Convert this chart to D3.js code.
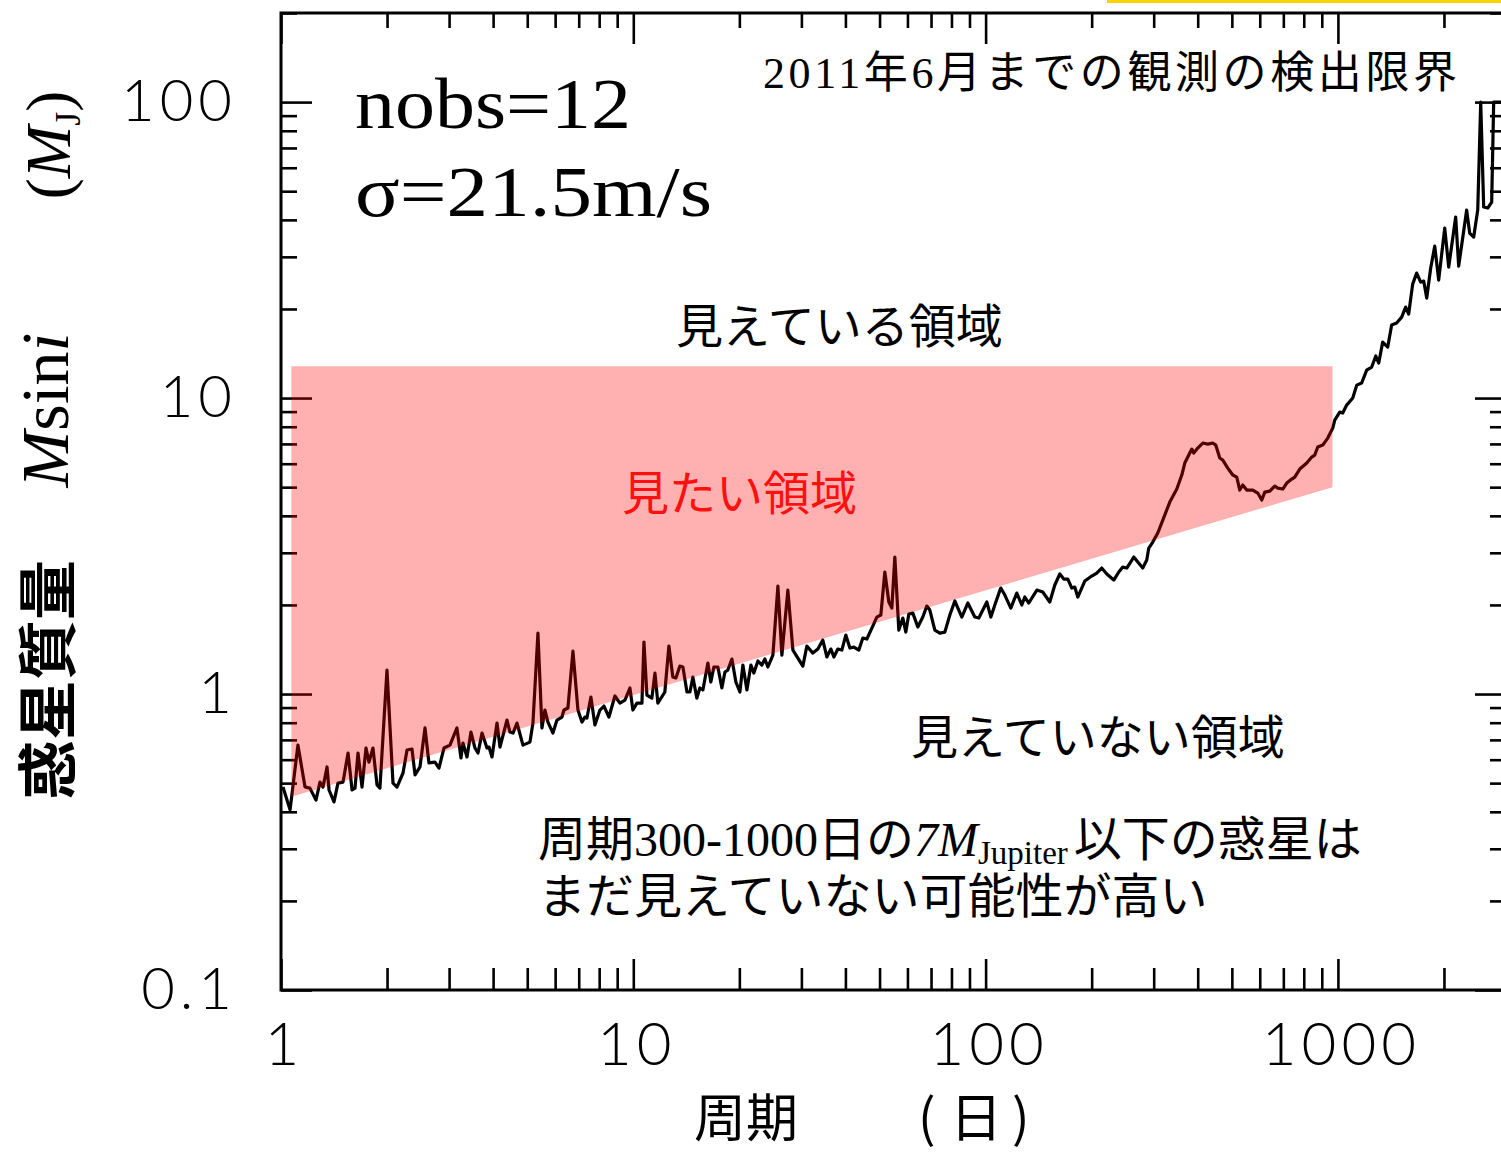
<!DOCTYPE html>
<html>
<head>
<meta charset="utf-8">
<script src="https://cdn.jsdelivr.net/npm/d3@7"></script>
<style>
  html, body { margin: 0; padding: 0; background: #ffffff; }
  svg { display: block; }
</style>
</head>
<body>
<svg id="chart" width="1501" height="1154"></svg>
<script>
// Detection limit: minimum detectable Msini (Jupiter masses) versus orbital period (days)
const periodDays = [
  1.013, 1.061, 1.117, 1.170, 1.208, 1.257, 1.290, 1.316, 1.351, 1.369,
  1.414, 1.451, 1.500, 1.550, 1.591, 1.622, 1.654, 1.698, 1.743, 1.777,
  1.824, 1.873, 1.909, 1.999, 2.079, 2.134, 2.220, 2.279, 2.354, 2.401,
  2.480, 2.563, 2.630, 2.735, 2.808, 2.901, 3.017, 3.158, 3.242, 3.285,
  3.372, 3.461, 3.553, 3.624, 3.720, 3.843, 3.894, 3.971, 4.103, 4.184,
  4.380, 4.466, 4.555, 4.675, 4.862, 5.089, 5.190, 5.362, 5.504, 5.613,
  5.724, 5.914, 6.071, 6.273, 6.355, 6.523, 6.740, 6.964, 7.148, 7.290,
  7.385, 7.580, 7.781, 8.040, 8.253, 8.527, 8.868, 9.162, 9.467, 9.781,
  9.974, 10.24, 10.58, 10.72, 10.93, 11.29, 11.52, 11.74, 12.29, 12.62,
  12.95, 13.21, 13.56, 13.83, 14.20, 14.48, 14.76, 15.15, 15.45, 15.76,
  16.28, 16.60, 16.93, 17.38, 17.84, 18.20, 18.55, 19.05, 19.55, 20.07,
  20.47, 21.01, 21.57, 21.99, 22.58, 23.17, 23.63, 24.10, 24.90, 25.73,
  26.41, 27.46, 28.38, 29.32, 30.29, 31.09, 32.33, 33.41, 34.51, 35.43,
  36.37, 37.09, 38.07, 39.08, 40.11, 41.18, 42.27, 43.67, 44.83, 46.02,
  47.55, 49.12, 50.42, 51.76, 53.13, 54.18, 55.25, 56.71, 58.22, 59.37,
  60.54, 62.15, 64.21, 66.34, 68.10, 69.45, 71.76, 74.14, 76.61, 79.15,
  81.78, 85.60, 89.02, 93.19, 95.66, 100.8, 103.5, 106.2, 110.4, 113.4,
  117.9, 122.6, 126.7, 129.2, 132.6, 139.8, 145.3, 152.1, 157.2, 162.4,
  166.7, 171.1, 175.7, 179.1, 182.7, 191.2, 200.1, 206.8, 213.6, 220.8,
  231.1, 238.8, 245.1, 251.6, 263.4, 270.4, 279.3, 286.7, 290.5, 298.2,
  308.1, 318.4, 333.3, 348.9, 360.5, 367.6, 379.8, 384.8, 389.8, 400.1,
  413.4, 427.2, 441.4, 450.1, 462.0, 471.2, 486.8, 503.0, 516.3, 526.5,
  536.9, 551.1, 573.2, 592.3, 608.0, 620.0, 640.6, 661.9, 675.0, 697.4,
  715.9, 739.7, 754.3, 779.4, 815.8, 842.9, 859.6, 876.6, 905.7, 935.8,
  966.9, 979.6, 1012, 1032, 1059, 1102, 1131, 1168, 1207, 1247,
  1281, 1306, 1340, 1385, 1421, 1468, 1517, 1557, 1588, 1630,
  1673, 1718, 1752, 1787, 1834, 1883, 1932, 2010, 2063, 2159,
  2202, 2320, 2366, 2429, 2494, 2543, 2593, 2662, 2732, 2768,
  3073
];

const massLimit = [
  0.485, 0.406, 0.672, 0.485, 0.481, 0.438, 0.504, 0.485, 0.567, 0.474,
  0.432, 0.500, 0.504, 0.632, 0.474, 0.481, 0.632, 0.485, 0.657, 0.589,
  0.657, 0.493, 0.481, 1.205, 0.500, 0.485, 0.541, 0.647, 0.652, 0.533,
  0.567, 0.768, 0.585, 0.589, 0.562, 0.657, 0.672, 0.768, 0.608, 0.683,
  0.613, 0.744, 0.657, 0.632, 0.738, 0.657, 0.662, 0.613, 0.798, 0.662,
  0.817, 0.744, 0.738, 0.798, 0.672, 0.688, 0.798, 1.607, 0.768, 0.883,
  0.804, 0.738, 0.817, 0.836, 0.883, 0.897, 1.397, 0.883, 0.804, 0.836,
  0.830, 0.977, 0.786, 0.883, 0.911, 0.836, 0.985, 0.932, 0.954, 1.048,
  0.883, 0.932, 0.932, 1.499, 0.992, 0.969, 1.177, 0.932, 1.016, 1.453,
  1.141, 1.132, 1.243, 1.234, 1.016, 1.016, 1.141, 0.969, 1.048, 1.032,
  1.273, 1.098, 1.234, 1.234, 1.048, 1.187, 1.205, 1.313, 1.098, 1.016,
  1.253, 1.032, 1.253, 1.177, 1.293, 1.253, 1.313, 1.234, 1.354, 2.317,
  1.354, 2.245, 1.408, 1.323, 1.243, 1.453, 1.375, 1.419, 1.522, 1.334,
  1.419, 1.334, 1.419, 1.408, 1.582, 1.430, 1.441, 1.408, 1.546, 1.534,
  1.671, 1.820, 1.849, 2.584, 2.046, 1.952, 2.903, 1.645, 1.806, 1.619,
  1.863, 1.877, 1.684, 1.820, 1.983, 1.922, 1.645, 1.607, 1.619, 1.849,
  2.062, 1.820, 2.030, 1.820, 1.806, 2.046, 1.820, 1.999, 2.281, 2.160,
  1.952, 2.194, 1.999, 2.127, 2.030, 2.245, 2.211, 2.046, 2.335, 2.544,
  2.446, 2.446, 2.281, 2.299, 2.127, 2.408, 2.504, 2.563, 2.665, 2.544,
  2.427, 2.584, 2.685, 2.665, 2.903, 2.792, 2.665, 2.836, 3.113, 3.262,
  3.499, 3.870, 4.452, 4.927, 5.495, 6.031, 6.520, 6.725, 6.520, 6.778,
  7.047, 6.992, 7.047, 6.937, 6.271, 6.173, 5.800, 5.495, 5.409, 4.889,
  5.083, 4.889, 4.889, 4.775, 4.523, 4.812, 4.850, 5.043, 4.965, 4.927,
  5.162, 5.325, 5.409, 5.755, 6.031, 6.320, 6.419, 6.831, 6.937, 7.326,
  7.917, 8.427, 8.968, 8.898, 9.469, 10.00, 11.06, 11.24, 12.43, 12.73,
  13.87, 13.13, 15.46, 14.87, 17.65, 17.92, 18.77, 20.30, 19.22, 24.27,
  26.44, 24.66, 24.85, 21.77, 27.49, 32.62, 25.04, 37.53, 27.71, 40.88,
  27.92, 43.16, 36.10, 34.99, 43.16, 100, 44.19, 43.85, 45.94, 100,
  100
];

// Region of interest (shaded): period range, upper mass, lower mass at each end
const targetPeriodRange = [1.07, 965];
const targetMassTop = 12.8;
const targetMassBottom = [0.45, 5.0];

// Axis ticks
const xMajorTicks = [1, 10, 100, 1000];
const xTickLabels = ["1", "10", "100", "1000"];
const yMajorTicks = [0.1, 1, 10, 100];
const yTickLabels = ["0.1", "1", "10", "100"];

const svg = d3.select("#chart");
const plot = { left: 281, right: 1506, top: 13, bottom: 990 };

const x = d3.scaleLog().domain([1, 3000]).range([plot.left, plot.right]);
const y = d3.scaleLog().domain([0.1, 200]).range([plot.bottom, plot.top]);

const isDecade = v => Math.abs(Math.log10(v) - Math.round(Math.log10(v))) < 1e-9;
const xMinor = x.ticks().filter(v => !isDecade(v));
const yMinor = y.ticks().filter(v => !isDecade(v));

const tickFont = "Lato, 'Open Sans', sans-serif";

function cleanAxis(g) {
  g.select(".domain").remove();
  g.selectAll(".tick line").attr("stroke", "#000").attr("stroke-width", 2.6);
  g.selectAll(".tick text")
    .attr("fill", "#000")
    .style("font-family", tickFont)
    .style("font-weight", 300)
    .style("letter-spacing", "5px");
}

const axes = svg.append("g").attr("class", "axes");

// bottom
axes.append("g").attr("transform", `translate(0,${plot.bottom})`)
  .call(d3.axisBottom(x).tickValues(xMajorTicks).tickFormat((d, i) => xTickLabels[i])
    .tickSize(-31).tickSizeOuter(0).tickPadding(32))
  .call(cleanAxis)
  .call(g => g.selectAll(".tick text").style("font-size", "60px").attr("dx", 3));
axes.append("g").attr("transform", `translate(0,${plot.bottom})`)
  .call(d3.axisBottom(x).tickValues(xMinor).tickFormat("").tickSize(-22).tickSizeOuter(0))
  .call(cleanAxis);

// top
axes.append("g").attr("transform", `translate(0,${plot.top})`)
  .call(d3.axisTop(x).tickValues(xMajorTicks).tickFormat("").tickSize(-31).tickSizeOuter(0))
  .call(cleanAxis);
axes.append("g").attr("transform", `translate(0,${plot.top})`)
  .call(d3.axisTop(x).tickValues(xMinor).tickFormat("").tickSize(-15).tickSizeOuter(0))
  .call(cleanAxis);

// left
axes.append("g").attr("transform", `translate(${plot.left},0)`)
  .call(d3.axisLeft(y).tickValues(yMajorTicks).tickFormat((d, i) => yTickLabels[i])
    .tickSize(-31).tickSizeOuter(0).tickPadding(44))
  .call(cleanAxis)
  .call(g => g.selectAll(".tick text").style("font-size", "58px"));
axes.append("g").attr("transform", `translate(${plot.left},0)`)
  .call(d3.axisLeft(y).tickValues(yMinor).tickFormat("").tickSize(-16).tickSizeOuter(0))
  .call(cleanAxis);

// right
axes.append("g").attr("transform", `translate(${plot.right},0)`)
  .call(d3.axisRight(y).tickValues(yMajorTicks).tickFormat("").tickSize(-31).tickSizeOuter(0))
  .call(cleanAxis);
axes.append("g").attr("transform", `translate(${plot.right},0)`)
  .call(d3.axisRight(y).tickValues(yMinor).tickFormat("").tickSize(-16).tickSizeOuter(0))
  .call(cleanAxis);

// frame
axes.append("rect")
  .attr("x", plot.left).attr("y", plot.top)
  .attr("width", plot.right - plot.left).attr("height", plot.bottom - plot.top)
  .attr("fill", "none").attr("stroke", "#000").attr("stroke-width", 3);

// detection-limit curve
const limitPoints = periodDays.map((p, i) => [p, massLimit[i]]);
const line = d3.line().x(d => x(d[0])).y(d => y(d[1]));
svg.append("path")
  .datum(limitPoints)
  .attr("d", line)
  .attr("fill", "none")
  .attr("stroke", "#000")
  .attr("stroke-width", 3.2)
  .attr("stroke-linejoin", "round");

// translucent target region laid over the curve
const region = [
  [targetPeriodRange[0], targetMassTop],
  [targetPeriodRange[1], targetMassTop],
  [targetPeriodRange[1], targetMassBottom[1]],
  [targetPeriodRange[0], targetMassBottom[0]]
];
svg.append("path")
  .datum(region)
  .attr("d", d3.line().x(d => x(d[0])).y(d => y(d[1])).curve(d3.curveLinearClosed))
  .attr("fill", "rgb(255,0,0)")
  .attr("fill-opacity", 0.31);

// annotations
const serif = "'Liberation Serif', 'Noto Sans CJK JP', serif";
const jp = "'Liberation Serif', 'Noto Sans CJK JP', sans-serif";
const cjk = "'Noto Sans CJK JP', sans-serif";

svg.append("text").attr("x", 355).attr("y", 128)
  .attr("textLength", 276).attr("lengthAdjust", "spacingAndGlyphs")
  .style("font-family", serif).style("font-size", "72px").text("nobs=12");
svg.append("text").attr("x", 355).attr("y", 216)
  .attr("textLength", 357).attr("lengthAdjust", "spacingAndGlyphs")
  .style("font-family", serif).style("font-size", "72px").text("σ=21.5m/s");

svg.append("text").attr("x", 763).attr("y", 88)
  .attr("textLength", 694).attr("lengthAdjust", "spacing")
  .style("font-family", jp).style("font-size", "44px")
  .text("2011年6月までの観測の検出限界");

svg.append("text").attr("x", 676).attr("y", 343)
  .style("font-family", jp).style("font-size", "47px").text("見えている領域");
svg.append("text").attr("x", 622).attr("y", 510)
  .attr("fill", "#ff1010")
  .style("font-family", jp).style("font-size", "47px").text("見たい領域");
svg.append("text").attr("x", 911).attr("y", 754)
  .style("font-family", jp).style("font-size", "47px").text("見えていない領域");

const note1 = svg.append("text").attr("x", 538).attr("y", 856)
  .style("font-family", jp).style("font-size", "48px");
note1.append("tspan").text("周期300-1000日の");
note1.append("tspan").style("font-style", "italic").text("7M");
note1.append("tspan").attr("dy", 8).style("font-size", "33px").text("Jupiter");
note1.append("tspan").attr("dy", -8).attr("dx", 6).text("以下の惑星は");

svg.append("text").attr("x", 538).attr("y", 913)
  .style("font-family", jp).style("font-size", "48px")
  .text("まだ見えていない可能性が高い");

// axis titles
const xTitle = svg.append("text").attr("y", 1137)
  .style("font-family", cjk).style("font-size", "52px");
xTitle.append("tspan").attr("x", 694).text("周期");
xTitle.append("tspan").attr("x", 918).text("(");
xTitle.append("tspan").attr("x", 950).text("日");
xTitle.append("tspan").attr("x", 1012).text(")");

svg.append("text").attr("transform", "translate(70,680) rotate(-90)")
  .attr("text-anchor", "middle")
  .style("font-family", cjk).style("font-size", "60px")
  .style("font-weight", 700)
  .text("惑星質量");

const msini = svg.append("text").attr("transform", "translate(68,410) rotate(-90)")
  .attr("text-anchor", "middle")
  .style("font-family", serif).style("font-size", "68px");
msini.append("tspan").style("font-style", "italic").text("M");
msini.append("tspan").text("sin");
msini.append("tspan").style("font-style", "italic").text("i");

const unit = svg.append("text").attr("transform", "translate(70,145) rotate(-90)")
  .attr("text-anchor", "middle")
  .style("font-family", serif).style("font-size", "63px");
unit.append("tspan").text("(");
unit.append("tspan").style("font-style", "italic").text("M");
unit.append("tspan").attr("dy", 10).style("font-size", "36px").text("J");
unit.append("tspan").attr("dy", -10).text(")");

// highlight bar at the top edge
svg.append("rect").attr("x", 1107).attr("y", 0).attr("width", 394).attr("height", 3)
  .attr("fill", "#ffd200");
</script>
</body>
</html>
